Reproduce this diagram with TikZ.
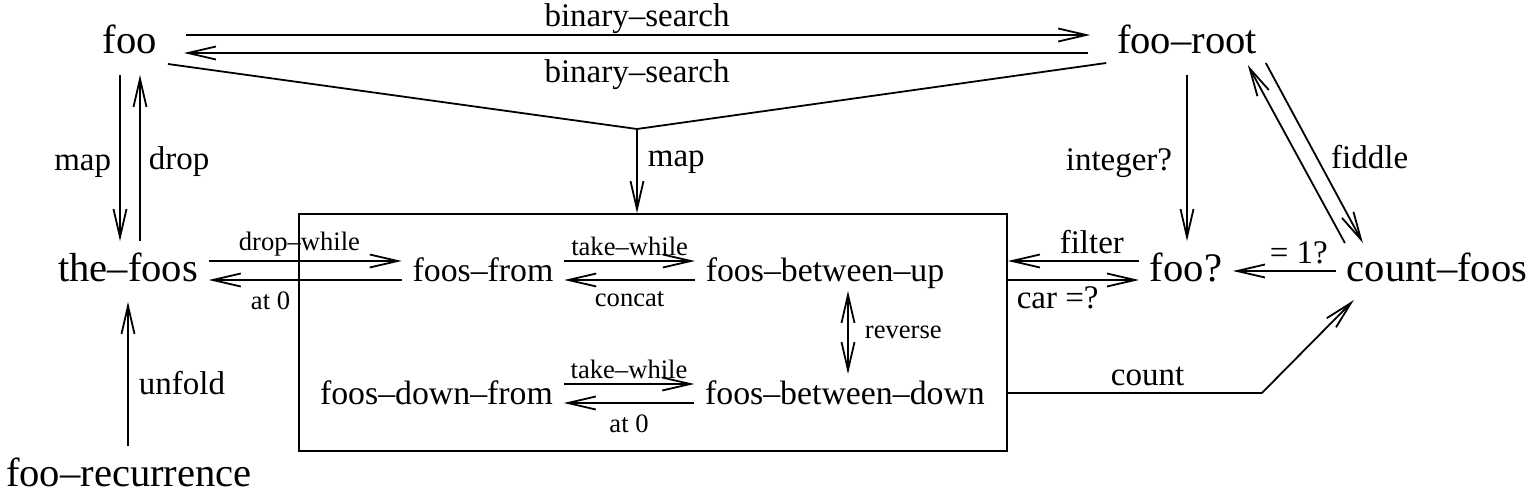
\documentclass[tikz,border=0pt]{standalone}
\usepackage{fontspec}
\setmainfont{Liberation Serif}
\usetikzlibrary{arrows.meta}
\tikzset{%
  >={Straight Barb[length=14pt,width=6.5pt]}, % default arrow style
  term/.style={font=\fontsize{20.3}{24}\selectfont, anchor=base,
    inner xsep=5pt, inner ysep=6pt, text height=13.5pt, text depth=4pt},
  inner/.style={term, font=\fontsize{16.9}{20}\selectfont,
    text height=11.5pt, text depth=3.5pt},
  lbl/.style={font=\fontsize{16.5}{20}\selectfont, inner sep=3pt},
  slbl/.style={font=\fontsize{13.3}{16}\selectfont, inner sep=2pt},
  slblb/.style={slbl, below, yshift=-3.5pt}%
}

\begin{document}
\begin{tikzpicture}[x=0.5pt,y=-0.5pt,line width=0.9pt]
  \useasboundingbox (0,0) rectangle (1538,492);
  % baselines
  \pgfmathsetmacro{\yA}{54}  % top row
  \pgfmathsetmacro{\yB}{281} % middle row
  \pgfmathsetmacro{\yC}{404} % lower row in the box
  \pgfmathsetmacro{\yD}{486} % bottom row
  % outer nodes
  \node[term] (foo) at (130,\yA) {foo};
  \node[term] (fooroot) at (1187,\yA) {foo--root};
  \node[term] (thefoos) at (128,\yB) {the--foos};
  \node[term] (foorec) at (129,\yD) {foo--recurrence};
  \node[term] (fooq) at (1186,\yB) {foo?};
  \node[term] (countfoos) at (1437,\yB) {count--foos};
  % box
  \node[draw,inner sep=0pt,minimum width=354pt,minimum height=118.5pt]
    (box) at (653,332.5) {};
  \node[inner] (foosfrom) at (483,\yB) {foos--from};
  \node[inner] (betweenup) at (825,\yB) {foos--between--up};
  \node[inner] (downfrom) at (436.5,\yC) {foos--down--from};
  \node[inner] (betweendown) at (845,\yC) {foos--between--down};
  \coordinate (split) at (637,129);
  % top row
  \draw[->,shorten <=9pt,shorten >=8pt] ([yshift=9.5pt]foo.base east)
    -- node[lbl,above,yshift=-3pt] {binary--search} ([yshift=9.5pt]fooroot.base west);
  \draw[->,shorten <=9pt,shorten >=8pt] ([yshift=0.5pt]fooroot.base west)
    -- node[lbl,below] {binary--search} ([yshift=0.5pt]foo.base east);
  \draw ([yshift=-5pt]foo.base east) -- (split);
  \draw ([yshift=-4.5pt]fooroot.base west) -- (split);
  \draw[->] (split) -- node[lbl,right,pos=0.4,xshift=2pt] {map} (split |- box.north);
  % left column
  \draw[->] ([xshift=-5pt]foo.south) -- node[lbl,left,xshift=-1pt,pos=0.55] {map}
    ([xshift=-5pt]foo.south |- thefoos.north);
  \draw[->] ([xshift=5pt]foo.south |- thefoos.north) -- node[lbl,right,xshift=1pt,pos=0.48] {drop}
    ([xshift=5pt]foo.south);
  \draw[->] (thefoos.south |- foorec.north) -- node[lbl,right,xshift=2pt,pos=0.44] {unfold}
    (thefoos.south);
  % inside the box
  \draw[->] ([yshift=10pt]thefoos.base east)
    -- node[slbl,above,pos=0.47] {drop--while} ([yshift=10pt]foosfrom.base west);
  \draw[->] ([yshift=0.5pt]foosfrom.base west)
    -- node[slblb,pos=0.68] {at 0} ([yshift=0.5pt]thefoos.base east);
  \draw[->] ([yshift=10pt]foosfrom.base east)
    -- node[slbl,above] {take--while} ([yshift=10pt]betweenup.base west);
  \draw[->] ([yshift=0.5pt]betweenup.base west)
    -- node[slblb] {concat} ([yshift=0.5pt]foosfrom.base east);
  \draw[->] ([yshift=10pt]downfrom.base east)
    -- node[slbl,above] {take--while} ([yshift=10pt]betweendown.base west);
  \draw[->] ([yshift=0.5pt]betweendown.base west)
    -- node[slblb] {at 0} ([yshift=0.5pt]downfrom.base east);
  \draw[<->] ([xshift=11.5pt,yshift=5pt]betweenup.south)
    -- node[slbl,right,xshift=6pt] {reverse}
    ([xshift=11.5pt,yshift=-3pt]betweenup.south |- betweendown.north);
  % right part
  \draw[->] (fooroot.south) -- node[lbl,left,xshift=-4pt,pos=0.53] {integer?}
    (fooroot.south |- fooq.north);
  \draw[->] ([yshift=10pt]fooq.base west)
    -- node[lbl,above,pos=0.36] {filter} ([yshift=10pt]fooq.base west -| box.east);
  \draw[->] ([yshift=0.5pt]fooq.base west -| box.east)
    -- node[lbl,below,pos=0.38] {car =?} ([yshift=0.5pt]fooq.base west);
  \draw[->] ([yshift=5pt]countfoos.base west)
    -- node[lbl,above,pos=0.36] {= 1?} ([yshift=5pt]countfoos.base west -| fooq.base east);
  \draw[->] ([xshift=-1pt,yshift=-4.5pt]fooroot.base east)
    -- node[lbl,right,xshift=4pt,pos=0.52] {fiddle} ([xshift=13.5pt,yshift=19pt]countfoos.base west);
  \draw[->] ([xshift=4.5pt,yshift=19pt]countfoos.base west)
    -- ([xshift=-10pt,yshift=-5.5pt]fooroot.base east);
  \draw[->] ([yshift=5.5pt]betweendown.base -| box.east)
    -- node[lbl,above,pos=0.55] {count} ++(254,0)
    -- ([xshift=9pt,yshift=-9.5pt]countfoos.base west);
\end{tikzpicture}
\end{document}
